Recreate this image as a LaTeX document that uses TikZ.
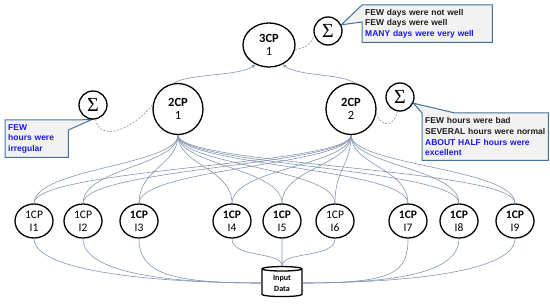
\documentclass[tikz,border=0pt]{standalone}
\usepackage{fontspec}
\setmainfont{Carlito}
\newfontfamily\arialf{Liberation Sans}
\newfontfamily\sigfont{Liberation Serif}
\usetikzlibrary{shapes.geometric,arrows.meta,backgrounds}
\definecolor{linkc}{RGB}{132,150,176}
\definecolor{boxborder}{RGB}{65,113,156}
\definecolor{boxfill}{RGB}{242,242,242}
\definecolor{bluetxt}{RGB}{25,25,235}
\definecolor{dashc}{RGB}{140,140,140}
\definecolor{darktxt}{RGB}{30,30,30}
\tikzset{
  cp/.style={ellipse, draw, line width=1.3pt, inner sep=0pt, align=center, font=\fontsize{11.5}{13}\selectfont},
  cpone/.style={cp, minimum width=38pt, minimum height=34pt},
  cptwo/.style={cp, minimum width=50pt, minimum height=51pt, font=\fontsize{12.5}{13.5}\selectfont},
  cpthree/.style={cptwo, minimum width=52pt, minimum height=44pt},
  sig/.style={circle, draw, line width=1.3pt, minimum size=28pt, inner sep=0pt, font=\sigfont\fontsize{20}{20}\selectfont},
  link/.style={draw=linkc, line width=0.6pt},
  uplink/.style={link, -{Stealth[length=4pt,width=3.5pt]}},
  dashlink/.style={draw=dashc, dash pattern=on 2pt off 1.5pt, line width=0.6pt},
  callbox/.style={inner ysep=0pt, inner xsep=3pt, align=left, anchor=north west, text=darktxt,
    font=\arialf\bfseries\fontsize{8.5}{10.6}\selectfont},
  callshape/.style={draw=boxborder, fill=boxfill, line width=1pt, line join=miter},
  datastore/.style={cylinder, shape border rotate=90, aspect=0.25, draw, line width=1.3pt,
    minimum width=40pt, minimum height=30pt, inner sep=0pt, align=center,
    font=\bfseries\fontsize{8}{11}\selectfont}
}
\begin{document}
\begin{tikzpicture}[x=1pt,y=-1pt]
\useasboundingbox (0,0) rectangle (550,305);

% concept nodes
\node[cpthree] (c3) at (269,45) {\textbf{3CP}\\1};
\node[cptwo] (c21) at (178,109) {\textbf{2CP}\\1};
\node[cptwo] (c22) at (351,109) {\textbf{2CP}\\2};

\node[cpone] (i1) at (34,221) {1CP\\I1};
\node[cpone] (i2) at (83,221) {1CP\\I2};
\node[cpone] (i3) at (139,221) {\textbf{1CP}\\I3};
\node[cpone] (i4) at (232,221) {\textbf{1CP}\\I4};
\node[cpone] (i5) at (282,221) {\textbf{1CP}\\I5};
\node[cpone] (i6) at (335,221) {1CP\\I6};
\node[cpone] (i7) at (408,221) {\textbf{1CP}\\I7};
\node[cpone] (i8) at (459,221) {\textbf{1CP}\\I8};
\node[cpone] (i9) at (515,221) {\textbf{1CP}\\I9};

\node[datastore] (data) at (282,283) {Input\\Data};

% sigma nodes
\node[sig] (s3) at (328,31) {Σ};
\node[sig] (s1) at (93,105) {Σ};
\node[sig] (s2) at (400,97) {Σ};

% callout texts
\node[callbox, minimum height=37pt, text width=124pt] (b3) at (362,5)
  {FEW days were not well\\FEW days were well\\\textcolor{bluetxt}{MANY days were very well}};
\node[callbox, minimum height=37pt, text width=57pt] (b1) at (5,120)
  {\textcolor{bluetxt}{FEW}\\\textcolor{bluetxt}{hours were}\\\textcolor{bluetxt}{irregular}};
\node[callbox, minimum height=47pt, text width=120pt] (b2) at (422,113)
  {FEW hours were bad\\SEVERAL hours were normal\\\textcolor{bluetxt}{ABOUT HALF hours were}\\\textcolor{bluetxt}{excellent}};

\begin{scope}[on background layer]
\path[callshape] (b3.north west) -- (b3.north east) -- (b3.south east) -- (b3.south west)
  -- ([yshift=-17pt]b3.north west) -- (s3.25) -- cycle;
\path[callshape] (b1.north west) -- (b1.north east) -- (s1.-95)
  -- ([yshift=-10pt]b1.north east) -- (b1.south east) -- (b1.south west) -- cycle;
\path[callshape] (b2.north west) -- (s2.-25) -- ([xshift=33pt]b2.north west)
  -- (b2.north east) -- (b2.south east) -- (b2.south west) -- cycle;
\end{scope}

% 2CP -> 3CP
\draw[uplink] (c21.100) .. controls +(15,-10) and +(-15,12) .. (c3.235);
\draw[uplink] (c22.80) .. controls +(-15,-10) and +(15,12) .. (c3.305);

% 2CP -> 1CP
\foreach \k in {1,...,9} {
  \draw[link] (c21.south) .. controls +(0,30) and +(0,-35) .. (i\k.north);
  \draw[link] (c22.south) .. controls +(0,30) and +(0,-35) .. (i\k.north);
}

% 1CP -> Input Data
\foreach \k in {1,2,3} {
  \draw[link] (i\k.south) .. controls +(0,35) and +(-90,0) .. (data.180);
}
\foreach \k in {7,8,9} {
  \draw[link] (i\k.south) .. controls +(0,35) and +(90,0) .. (data.0);
}
\draw[link] (i4.south) .. controls +(0,20) and +(0,-15) .. (data.90);
\draw[link] (i5.south) -- (data.90);
\draw[link] (i6.south) .. controls +(0,20) and +(0,-15) .. (data.90);

% dashed links to sigma nodes
\draw[dashlink] (c3.-10) .. controls +(10,-2) and +(-5,10) .. (s3.200);
\draw[dashlink] (s1.-80) .. controls +(3,20) and +(-25,30) .. (c21.170);
\draw[dashlink] (c22.-10) .. controls +(5,15) and +(-3,15) .. (s2.-100);
\end{tikzpicture}
\end{document}
